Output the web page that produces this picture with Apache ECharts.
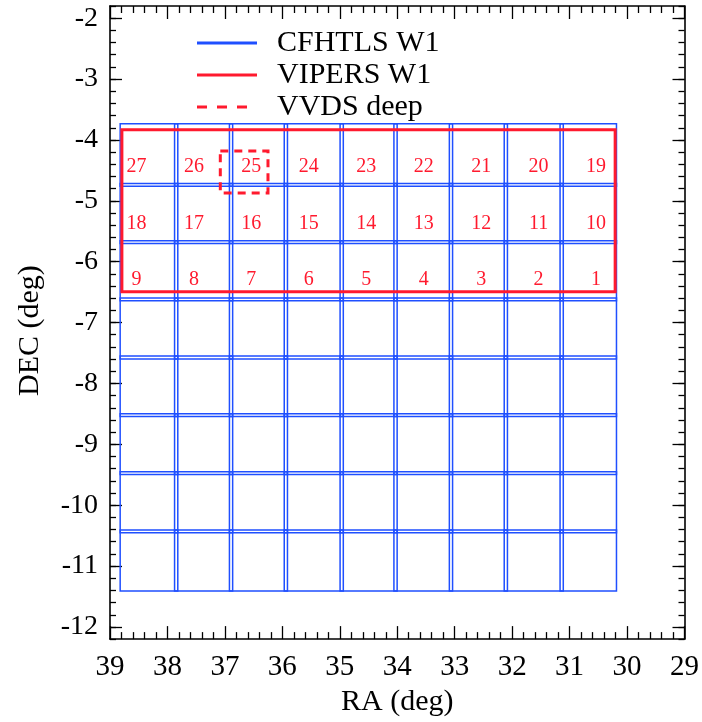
<!DOCTYPE html>
<html><head><meta charset="utf-8">
<script src="https://cdn.jsdelivr.net/npm/echarts@6/dist/echarts.min.js"></script>
<style>html,body{margin:0;padding:0;background:#fff}#c{width:702px;height:722px}</style>
</head><body><div id="c"></div>
<script>
// ---- data (degrees) ----
const decMajorTicks = [-12, -11, -10, -9, -8, -7, -6, -5, -4, -3, -2];
// CFHTLS W1 tile columns: [RA left edge, RA right edge]
const cfhtColumnsRA = [[38.823, 37.820], [37.876, 36.865], [36.921, 35.911], [35.967, 34.939], [34.995, 34.002], [34.058, 33.037], [33.093, 32.082], [32.138, 31.110], [31.166, 30.184]];
// CFHTLS W1 tile rows: [DEC top edge, DEC bottom edge]
const cfhtRowsDEC = [[-3.735, -4.760], [-4.715, -5.700], [-5.655, -6.640], [-6.595, -7.597], [-7.550, -8.543], [-8.497, -9.498], [-9.452, -10.453], [-10.408, -11.410]];
// VIPERS W1 outline: [RA left, RA right, DEC top, DEC bottom]
const vipersBox = [38.793, 30.207, -3.833, -6.492];
// VVDS deep outline
const vvdsBox = [37.08, 36.25, -4.18, -4.87];
// VIPERS tile number label positions and ids
const tileLabelRA = [38.54, 37.54, 36.54, 35.54, 34.54, 33.54, 32.54, 31.54, 30.54];
const tileLabelDEC = [-4.443, -5.377, -6.292];
const tileIds = [[27, 26, 25, 24, 23, 22, 21, 20, 19], [18, 17, 16, 15, 14, 13, 12, 11, 10], [9, 8, 7, 6, 5, 4, 3, 2, 1]];

const FONT = "'Liberation Serif','Times New Roman',Times,serif";
const BLUE = '#1f4fff', RED = '#ff1a2e';

const cfhtTiles = [];
cfhtRowsDEC.forEach(r => cfhtColumnsRA.forEach(c => cfhtTiles.push([c[0], c[1], r[0], r[1]])));
const labelData = [];
tileIds.forEach((row, i) => row.forEach((id, j) => labelData.push([tileLabelRA[j], tileLabelDEC[i], id])));

function rectRenderer(style) {
  return function (params, api) {
    const a = api.coord([api.value(0), api.value(2)]);
    const b = api.coord([api.value(1), api.value(3)]);
    return {
      type: 'rect', silent: true,
      shape: { x: Math.min(a[0], b[0]), y: Math.min(a[1], b[1]), width: Math.abs(b[0] - a[0]), height: Math.abs(b[1] - a[1]) },
      style: Object.assign({ fill: 'none' }, style)
    };
  };
}

const tickStyle = { color: '#000', width: 1.3 };
const lineStyle = { color: '#000', width: 1.6 };
function xAx(pos, extra) {
  return Object.assign({
    type: 'value', position: pos, min: 29, max: 39, interval: 1, inverse: true,
    axisLine: { show: true, onZero: false, lineStyle: lineStyle },
    axisTick: { show: true, inside: true, length: 13, lineStyle: tickStyle },
    minorTick: { show: true, splitNumber: 5, length: 7, lineStyle: tickStyle },
    axisLabel: { show: false }, splitLine: { show: false }, minorSplitLine: { show: false }
  }, extra);
}
function yMajor(pos, extra) {
  return Object.assign({
    type: 'value', position: pos, min: -12.2, max: -1.8,
    axisLine: { show: true, onZero: false, lineStyle: lineStyle },
    axisTick: { show: true, inside: true, length: 12, lineStyle: tickStyle, customValues: decMajorTicks },
    axisLabel: { show: false }, splitLine: { show: false }
  }, extra);
}
function yMinor(pos) {
  return {
    type: 'value', position: pos, min: -12.2, max: -1.8, interval: 0.2,
    axisLine: { show: false },
    axisTick: { show: true, inside: true, length: 6, lineStyle: tickStyle },
    axisLabel: { show: false }, splitLine: { show: false }
  };
}

const SOLID = 'path://M0,0H60V3H0Z';
const DASH = 'path://M0,0H10V3H0ZM20,0H30V3H20ZM40,0H50V3H40ZM60,3';

const chart = echarts.init(document.getElementById('c'));
chart.setOption({
  animation: false,
  backgroundColor: '#fff',
  grid: { left: 110, right: 16, top: 6, bottom: 81 },
  legend: {
    orient: 'vertical', left: 197, top: 27, padding: 0, itemGap: 0, itemWidth: 60, itemHeight: 3,
    selectedMode: false,
    textStyle: { fontSize: 30, fontFamily: FONT, color: '#000', lineHeight: 32, padding: [0, 0, 0, 15] },
    data: [{ name: 'CFHTLS W1', icon: SOLID }, { name: 'VIPERS W1', icon: SOLID }, { name: 'VVDS deep', icon: DASH }]
  },
  xAxis: [
    xAx('bottom', {
      axisLabel: { show: true, fontSize: 29, fontFamily: FONT, color: '#000', margin: 14 },
      name: 'RA (deg)', nameLocation: 'middle', nameGap: 46,
      nameTextStyle: { fontSize: 30, fontFamily: FONT, color: '#000' }
    }),
    xAx('top', {})
  ],
  yAxis: [
    yMajor('left', {
      axisLabel: { show: true, customValues: decMajorTicks, fontSize: 28, fontFamily: FONT, color: '#000', margin: 12 },
      name: 'DEC (deg)', nameLocation: 'middle', nameGap: 65, nameRotate: 90,
      nameTextStyle: { fontSize: 30, fontFamily: FONT, color: '#000', padding: [0, 16, 0, 0] }
    }),
    yMinor('left'),
    yMajor('right', {}),
    yMinor('right')
  ],
  series: [
    {
      name: 'CFHTLS W1', type: 'custom', xAxisIndex: 0, yAxisIndex: 0,
      itemStyle: { color: BLUE }, encode: { x: [0, 1], y: [2, 3] },
      renderItem: rectRenderer({ stroke: BLUE, lineWidth: 1.5 }), data: cfhtTiles
    },
    {
      name: 'VIPERS W1', type: 'custom', xAxisIndex: 0, yAxisIndex: 0,
      itemStyle: { color: RED }, encode: { x: [0, 1], y: [2, 3] },
      renderItem: rectRenderer({ stroke: RED, lineWidth: 3 }), data: [vipersBox]
    },
    {
      name: 'VVDS deep', type: 'custom', xAxisIndex: 0, yAxisIndex: 0,
      itemStyle: { color: RED }, encode: { x: [0, 1], y: [2, 3] },
      renderItem: rectRenderer({ stroke: RED, lineWidth: 3, lineDash: [8, 6] }), data: [vvdsBox]
    },
    {
      name: 'tile numbers', type: 'custom', xAxisIndex: 0, yAxisIndex: 0,
      itemStyle: { color: RED }, encode: { x: 0, y: 1 },
      renderItem: function (params, api) {
        const p = api.coord([api.value(0), api.value(1)]);
        return {
          type: 'text', silent: true, x: p[0], y: p[1],
          style: { text: String(api.value(2)), fill: RED, font: '20px ' + FONT, align: 'center', verticalAlign: 'middle' }
        };
      },
      data: labelData
    }
  ]
});
</script>
</body></html>
